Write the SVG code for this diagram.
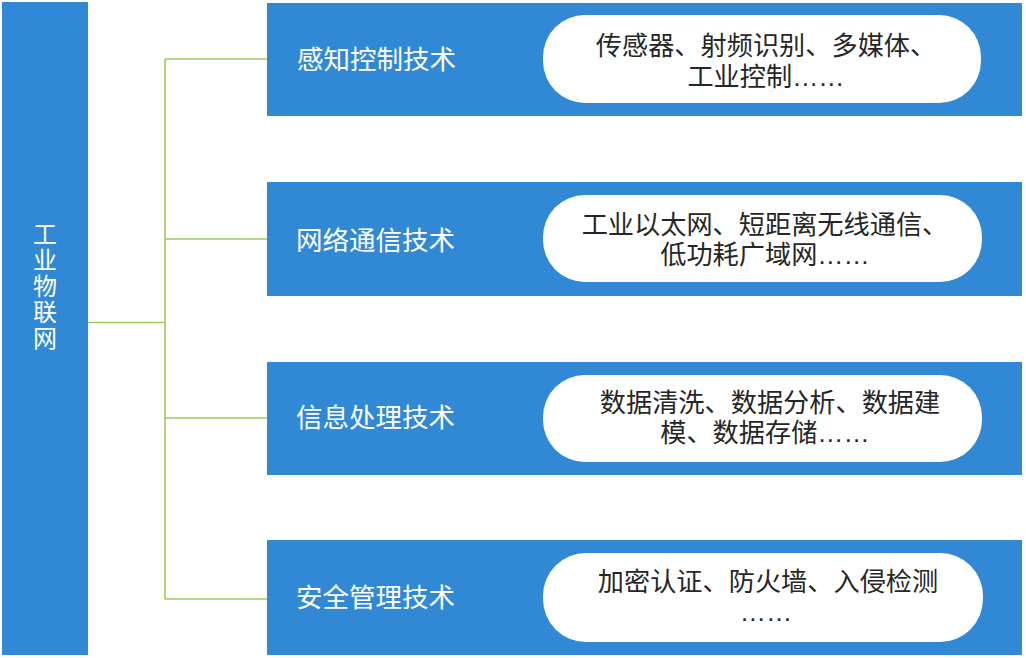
<svg xmlns="http://www.w3.org/2000/svg" width="1026" height="658" viewBox="0 0 1026 658">
<style>
.blue{fill:#3189D6}
.pill{fill:#ffffff}
.t{font-family:"Noto Sans CJK SC","Noto Sans",sans-serif;dominant-baseline:central}
.title{fill:#ffffff;font-size:26.5px}
.desc{font-family:"Liberation Sans","Noto Sans CJK SC",sans-serif;dominant-baseline:central;fill:#262626;font-size:26.2px;text-anchor:middle}
.root{fill:#ffffff;font-size:24px;font-family:"Noto Sans CJK SC","Noto Sans",sans-serif;writing-mode:tb;letter-spacing:2px}
.conn{stroke:#9ACD5A;stroke-width:1.6;fill:none}
</style>
<rect width="1026" height="658" fill="#ffffff"/>
<g id="root">
<rect class="blue" x="2" y="2" width="86" height="653"/>
<text class="root" x="45" y="222">工业物联网</text>
</g>
<g id="connectors">
<path class="conn" d="M88 322.5 H165 M165 59 V599 M165 59 H267 M165 239 H267 M165 418 H267 M165 599 H267"/>
</g>
<g id="node1">
<rect class="blue" x="267" y="3" width="755" height="113"/>
<text class="t title" x="297" y="57">感知控制技术</text>
<rect class="pill" x="543" y="15" width="438" height="88" rx="42"/>
<text class="desc" x="766" y="46">传感器、射频识别、多媒体、</text>
<text class="desc" x="766" y="77">工业控制……</text>
</g>
<g id="node2">
<rect class="blue" x="267" y="182" width="755" height="114"/>
<text class="t title" x="296" y="238">网络通信技术</text>
<rect class="pill" x="543" y="195" width="439" height="87" rx="42"/>
<text class="desc" x="765" y="225">工业以太网、短距离无线通信、</text>
<text class="desc" x="765" y="255">低功耗广域网……</text>
</g>
<g id="node3">
<rect class="blue" x="267" y="362" width="755" height="113"/>
<text class="t title" x="296" y="415">信息处理技术</text>
<rect class="pill" x="543" y="375" width="439" height="87" rx="42"/>
<text class="desc" x="770" y="403">数据清洗、数据分析、数据建</text>
<text class="desc" x="765" y="433">模、数据存储……</text>
</g>
<g id="node4">
<rect class="blue" x="267" y="540" width="755" height="115"/>
<text class="t title" x="296" y="595">安全管理技术</text>
<rect class="pill" x="543" y="553" width="440" height="89" rx="43"/>
<text class="desc" x="768" y="582">加密认证、防火墙、入侵检测</text>
<text class="desc" x="766" y="612">……</text>
</g>
</svg>
